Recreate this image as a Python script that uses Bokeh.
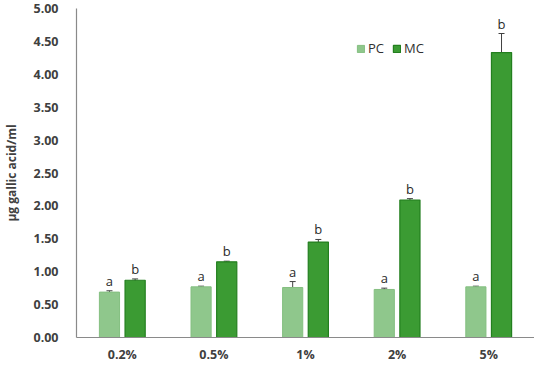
from bokeh.plotting import figure
from bokeh.models import ColumnDataSource, FixedTicker, NumeralTickFormatter, Whisker, Legend, LegendItem, FactorRange, TeeHead
from bokeh.transform import dodge
from bokeh.core.properties import value
from bokeh.embed import file_html
from bokeh.resources import INLINE

categories = ["0.2%", "0.5%", "1%", "2%", "5%"]
pc_values = [0.69, 0.77, 0.76, 0.73, 0.77]
pc_errors = [0.02, 0.01, 0.09, 0.02, 0.01]
mc_values = [0.87, 1.15, 1.45, 2.09, 4.33]
mc_errors = [0.02, 0.01, 0.04, 0.02, 0.29]
pc_letters = ["a", "a", "a", "a", "a"]
mc_letters = ["b", "b", "b", "b", "b"]
y_ticks = [0, 0.5, 1.0, 1.5, 2.0, 2.5, 3.0, 3.5, 4.0, 4.5, 5.0]

FONT = "Open Sans"
TXT = "#404040"

src = ColumnDataSource(dict(
    cat=categories,
    pc=pc_values, pc_lo=[v - e for v, e in zip(pc_values, pc_errors)], pc_hi=[v + e for v, e in zip(pc_values, pc_errors)],
    mc=mc_values, mc_lo=[v - e for v, e in zip(mc_values, mc_errors)], mc_hi=[v + e for v, e in zip(mc_values, mc_errors)],
    pcl=pc_letters, mcl=mc_letters,
))

p = figure(width=534, height=365, x_range=FactorRange(*categories), y_range=(0, 5.0),
           output_backend="svg", toolbar_location=None,
           min_border_top=8, min_border_right=0, min_border_left=10, min_border_bottom=0)
p.outline_line_color = None
p.grid.grid_line_color = None
p.background_fill_color = "white"
p.x_range.range_padding = 0.0

off = 0.14
w = 0.22
r_pc = p.vbar(x=dodge("cat", -off, range=p.x_range), top="pc", width=w, source=src,
              fill_color="#8fc78c", line_color="#84bf80", line_width=1)
r_mc = p.vbar(x=dodge("cat", off, range=p.x_range), top="mc", width=w, source=src,
              fill_color="#3b9b33", line_color="#237f1f", line_width=1.2)

for xname, lo, hi in ((-off, "pc_lo", "pc_hi"), (off, "mc_lo", "mc_hi")):
    wk = Whisker(base=dodge("cat", xname, range=p.x_range), lower=lo, upper=hi, source=src,
                 line_color="#404040", line_width=1)
    wk.upper_head = TeeHead(size=6, line_color="#404040", line_width=1)
    wk.lower_head = TeeHead(size=6, line_color="#404040", line_width=1)
    p.add_layout(wk)

p.text(x=dodge("cat", -off, range=p.x_range), y="pc_hi", text="pcl", source=src,
       text_align="center", text_baseline="bottom", y_offset=-1,
       text_font=value(FONT), text_font_size="13px", text_color="#2a2a2a")
p.text(x=dodge("cat", off, range=p.x_range), y="mc_hi", text="mcl", source=src,
       text_align="center", text_baseline="bottom", y_offset=-1,
       text_font=value(FONT), text_font_size="13px", text_color="#2a2a2a")

p.yaxis.ticker = FixedTicker(ticks=y_ticks)
p.yaxis.formatter = NumeralTickFormatter(format="0.00")
p.yaxis.axis_label = "μg gallic acid/ml"
p.yaxis.axis_label_text_font = FONT
p.yaxis.axis_label_text_font_style = "bold"
p.yaxis.axis_label_text_font_size = "12px"
p.yaxis.axis_label_text_color = TXT
p.yaxis.axis_label_standoff = 10
for ax in (p.xaxis, p.yaxis):
    ax.major_tick_line_color = None
    ax.minor_tick_line_color = None
    ax.axis_line_color = "#8a8a8a"
    ax.axis_line_width = 1.2
    ax.major_label_text_font = FONT
    ax.major_label_text_font_style = "bold"
    ax.major_label_text_font_size = "12.5px"
    ax.major_label_text_color = TXT
p.yaxis.major_label_standoff = 12
p.xaxis.major_label_standoff = 2

legend = Legend(items=[LegendItem(label="PC", renderers=[r_pc]), LegendItem(label="MC", renderers=[r_mc])],
                orientation="horizontal", location=(280, 280),
                glyph_width=9, glyph_height=9, spacing=4, label_standoff=3, padding=0, margin=0,
                label_text_font=FONT, label_text_font_size="13px", label_text_color="#303030",
                background_fill_alpha=0, border_line_color=None)
p.add_layout(legend)

open("out.html", "w").write(file_html(p, INLINE))
